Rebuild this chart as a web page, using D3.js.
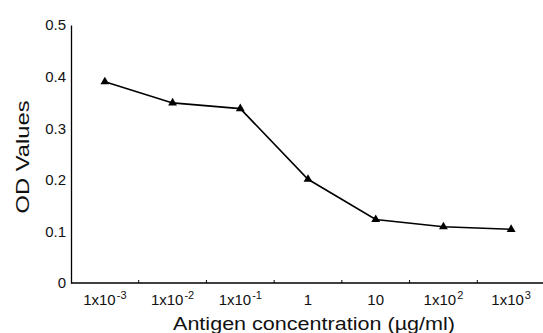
<!DOCTYPE html>
<html>
<head>
<meta charset="utf-8">
<script src="https://cdn.jsdelivr.net/npm/d3@7"></script>
<style>
  body { margin: 0; background: #fff; }
  svg { display: block; font-family: Arial, "Liberation Sans", sans-serif; }
</style>
</head>
<body>
<svg id="chart" width="543" height="333"></svg>
<script>
// concentrations (ug/ml) as base + exponent, and OD readings
const concBase = ["1x10", "1x10", "1x10", "1", "10", "1x10", "1x10"];
const concExp = ["-3", "-2", "-1", "", "", "2", "3"];
const odValues = [0.39, 0.349, 0.338, 0.201, 0.123, 0.109, 0.104];
const yTicks = [0, 0.1, 0.2, 0.3, 0.4, 0.5];

const svg = d3.select("#chart");
const margin = { left: 71, right: -2, top: 25, bottom: 50 };
const width = +svg.attr("width");
const height = +svg.attr("height");
const fontFam = "Arial, 'Liberation Sans', sans-serif";

const cats = concBase.map((b, i) => i);

const x = d3.scaleBand()
    .domain(cats)
    .range([margin.left, width - margin.right])
    .padding(0);

const y = d3.scaleLinear()
    .domain([0, 0.5])
    .range([height - margin.bottom, margin.top]);

// y axis
const yAxis = svg.append("g")
    .attr("transform", `translate(${margin.left},0)`)
    .call(d3.axisLeft(y).tickValues(yTicks).tickSize(0).tickPadding(5)
        .tickFormat((d) => d === 0 ? "0" : d3.format(".1f")(d)));
yAxis.attr("font-family", fontFam).attr("font-size", 15);
yAxis.select(".domain").attr("stroke", "#000").attr("stroke-width", 1.3);
yAxis.selectAll("text").attr("fill", "#111");

// x axis: ticks sit on the band boundaries, labels at band centres
const xAxisG = svg.append("g")
    .attr("transform", `translate(0,${y(0)})`);
xAxisG.append("line")
    .attr("x1", margin.left)
    .attr("x2", width)
    .attr("stroke", "#000")
    .attr("stroke-width", 1.6);
xAxisG.selectAll(".tick")
    .data(cats.slice(1))
    .join("line")
    .attr("class", "tick")
    .attr("x1", (d) => x(d))
    .attr("x2", (d) => x(d))
    .attr("y1", 0)
    .attr("y2", -3)
    .attr("stroke", "#000");

const labels = xAxisG.selectAll(".xlab")
    .data(cats)
    .join("text")
    .attr("class", "xlab")
    .attr("x", (d) => x(d) + x.bandwidth() / 2)
    .attr("y", 22)
    .attr("text-anchor", "middle")
    .attr("font-size", 15)
    .attr("fill", "#111");
labels.append("tspan").text((d) => concBase[d]);
labels.filter((d) => concExp[d] !== "")
    .append("tspan")
    .attr("dy", -6)
    .attr("dx", 1)
    .attr("font-size", 11)
    .text((d) => concExp[d]);

// axis titles
svg.append("text")
    .attr("x", 314)
    .attr("y", 330)
    .attr("text-anchor", "middle")
    .attr("font-size", 17.5)
    .attr("textLength", 282)
    .attr("lengthAdjust", "spacingAndGlyphs")
    .attr("fill", "#111")
    .text("Antigen concentration (\u00b5g/ml)");

svg.append("text")
    .attr("transform", `translate(29,157) rotate(-90)`)
    .attr("text-anchor", "middle")
    .attr("font-size", 17.5)
    .attr("textLength", 113)
    .attr("lengthAdjust", "spacingAndGlyphs")
    .attr("fill", "#111")
    .text("OD Values");

// line + triangle markers
const cx = (i) => x(i) + x.bandwidth() / 2;
const line = d3.line()
    .x((d, i) => cx(i))
    .y((d) => y(d));

svg.append("path")
    .datum(odValues)
    .attr("d", line)
    .attr("fill", "none")
    .attr("stroke", "#000")
    .attr("stroke-width", 1.6);

svg.append("g")
    .selectAll("path")
    .data(odValues)
    .join("path")
    .attr("d", d3.symbol(d3.symbolTriangle, 34))
    .attr("transform", (d, i) => `translate(${cx(i)},${y(d)})`)
    .attr("fill", "#000");
</script>
</body>
</html>
